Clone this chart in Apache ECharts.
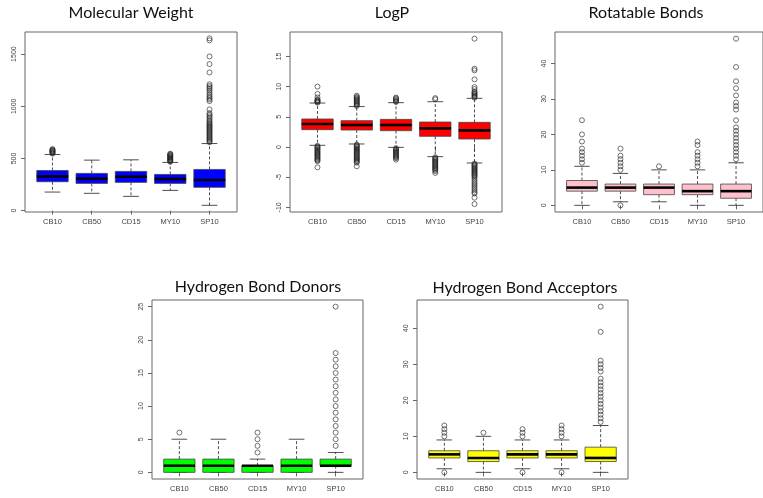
<!DOCTYPE html>
<html>
<head>
<meta charset="utf-8">
<script src="https://cdn.jsdelivr.net/npm/echarts@6/dist/echarts.min.js"></script>
<style>
  html, body { margin: 0; padding: 0; background: #fff; }
  #chart { width: 763px; height: 498px; }
</style>
</head>
<body>
<div id="chart"></div>
<script>
var categories = ['CB10', 'CB50', 'CD15', 'MY10', 'SP10'];

// [lower whisker, Q1, median, Q3, upper whisker] per category
var mwStats = [[178, 277, 328, 385, 538], [166, 261, 306, 357, 484], [137, 271, 325, 376, 487], [194, 261, 303, 347, 462], [51, 223, 293, 395, 643]];
var mwOutliers = [
  [546, 552, 558, 563, 568, 573, 578, 584, 590],
  [],
  [],
  [468, 474, 480, 486, 492, 498, 504, 510, 516, 522, 528, 534, 540, 546],
  [655, 665, 675, 685, 695, 705, 715, 725, 735, 745, 755, 765, 775, 785, 795, 805, 815, 825, 836, 848, 860, 875, 890, 905, 920, 935, 970, 1050, 1065, 1080, 1095, 1110, 1130, 1150, 1165, 1180, 1195, 1211, 1324, 1404, 1478, 1632, 1651]
];

var logpStats = [[0.28, 2.87, 3.81, 4.64, 7.28], [0.5, 2.81, 3.64, 4.36, 6.7], [-0.06, 2.7, 3.64, 4.58, 7.34], [-1.6, 1.77, 3.09, 4.14, 7.5], [-2.65, 1.32, 2.76, 4.08, 8.06]];
var logpOutliers = [
  [7.35, 7.45, 7.55, 7.65, 7.75, 7.85, 8.2, 8.8, 10.0, 0.2, 0.05, -0.1, -0.25, -0.4, -0.55, -0.7, -0.85, -1.0, -1.15, -1.3, -1.45, -1.6, -1.75, -1.9, -2.05, -2.2, -2.35, -3.37],
  [6.8, 6.95, 7.1, 7.25, 7.4, 7.55, 7.7, 7.85, 8.0, 8.15, 8.3, 8.5, 0.4, 0.25, 0.1, -0.05, -0.2, -0.35, -0.5, -0.65, -0.8, -0.95, -1.1, -1.25, -1.4, -1.55, -1.7, -1.85, -2.0, -2.15, -2.3, -2.45, -2.6, -3.2],
  [7.45, 7.6, 7.75, 7.9, 8.05, 8.2, -0.2, -0.35, -0.5, -0.65, -0.8, -0.95, -1.1, -1.25, -1.4, -1.55, -1.7, -1.85, -2.1],
  [7.9, 8.1, -1.7, -1.85, -2.0, -2.15, -2.3, -2.45, -2.6, -2.75, -2.9, -3.05, -3.2, -3.35, -3.5, -3.65, -3.8, -4.0, -4.3],
  [8.15, 8.3, 8.45, 8.6, 8.75, 8.9, 9.05, 9.2, 9.6, 9.93, 11.2, 12.7, 12.97, 17.94, -2.75, -2.9, -3.05, -3.2, -3.35, -3.5, -3.65, -3.8, -3.95, -4.1, -4.25, -4.4, -4.55, -4.7, -4.86, -5.1, -5.4, -5.7, -6.0, -6.3, -6.6, -6.9, -7.2, -7.5, -7.7, -8.4, -9.45]
];

var rotStats = [[0, 4, 5, 7, 11], [1, 4, 5, 6, 9], [1, 3, 5, 6, 10], [0, 3, 4, 6, 10], [0, 2, 4, 6, 12]];
var rotOutliers = [
  [12, 13, 14, 15, 16, 18, 20, 24],
  [0, 10, 11, 12, 13, 14, 16],
  [11],
  [11, 12, 13, 14, 15, 17, 18],
  [13, 14, 15, 16, 17, 18, 19, 20, 21, 22, 24, 27, 28, 29, 31, 33, 35, 39, 47]
];

var donStats = [[0, 0, 1, 2, 5], [0, 0, 1, 2, 5], [0, 0, 1, 1, 2], [0, 0, 1, 2, 5], [0, 1, 1, 2, 3]];
var donOutliers = [
  [6],
  [],
  [3, 4, 5, 6],
  [],
  [4, 5, 6, 7, 8, 9, 10, 11, 12, 13, 14, 15, 16, 17, 18, 25]
];

var accStats = [[1, 4, 5, 6, 9], [0, 3, 4, 6, 10], [1, 4, 5, 6, 9], [1, 4, 5, 6, 9], [0, 3, 4, 7, 13]];
var accOutliers = [
  [0, 10, 11, 12, 13],
  [11],
  [0, 10, 11, 12],
  [0, 10, 11, 12, 13],
  [14, 15, 16, 17, 18, 19, 20, 21, 22, 23, 24, 25, 26, 28, 29, 30, 31, 39, 46]
];

var mwTicks = [0, 500, 1000, 1500];
var logpTicks = [-10, -5, 0, 5, 10, 15];
var rotTicks = [0, 10, 20, 30, 40];
var donTicks = [0, 5, 10, 15, 20, 25];
var accTicks = [0, 10, 20, 30, 40];

var panels = [
  { title: 'Molecular Weight', stats: mwStats, out: mwOutliers, ticks: mwTicks, min: -13, max: 1712, fill: '#0000ff',
    grid: { left: 25, top: 32, width: 212, height: 180 }, titlePos: [131, 13] },
  { title: 'LogP', stats: logpStats, out: logpOutliers, ticks: logpTicks, min: -10.77, max: 19.05, fill: '#ff0000',
    grid: { left: 290, top: 32, width: 212, height: 180 }, titlePos: [392, 13] },
  { title: 'Rotatable Bonds', stats: rotStats, out: rotOutliers, ticks: rotTicks, min: -1.88, max: 48.88, fill: '#ffc0cb',
    grid: { left: 555, top: 32, width: 212, height: 180 }, titlePos: [646, 13] },
  { title: 'Hydrogen Bond Donors', stats: donStats, out: donOutliers, ticks: donTicks, min: -1, max: 26, fill: '#00ff00',
    grid: { left: 152, top: 300, width: 211, height: 179 }, titlePos: [258, 287] },
  { title: 'Hydrogen Bond Acceptors', stats: accStats, out: accOutliers, ticks: accTicks, min: -1.84, max: 47.84, fill: '#ffff00',
    grid: { left: 417, top: 300, width: 211, height: 179 }, titlePos: [525, 288] }
];

function renderBox(params, api) {
  var x = api.value(0);
  var lo = api.coord([x, api.value(1)]);
  var q1 = api.coord([x, api.value(2)]);
  var md = api.coord([x, api.value(3)]);
  var q3 = api.coord([x, api.value(4)]);
  var hi = api.coord([x, api.value(5)]);
  var half = api.size([0.8, 0])[0] / 2;
  var cap = half / 2;
  var cx = lo[0];
  var line = { stroke: '#222', lineWidth: 0.8 };
  return {
    type: 'group',
    children: [
      { type: 'line', shape: { x1: cx, y1: q3[1], x2: cx, y2: hi[1] }, style: { stroke: '#222', lineWidth: 0.8, lineDash: [3, 2] } },
      { type: 'line', shape: { x1: cx, y1: q1[1], x2: cx, y2: lo[1] }, style: { stroke: '#222', lineWidth: 0.8, lineDash: [3, 2] } },
      { type: 'line', shape: { x1: cx - cap, y1: hi[1], x2: cx + cap, y2: hi[1] }, style: line },
      { type: 'line', shape: { x1: cx - cap, y1: lo[1], x2: cx + cap, y2: lo[1] }, style: line },
      { type: 'rect', shape: { x: cx - half, y: q3[1], width: half * 2, height: q1[1] - q3[1] },
        style: { fill: api.visual('color'), stroke: '#444', lineWidth: 0.8 } },
      { type: 'line', shape: { x1: cx - half, y1: md[1], x2: cx + half, y2: md[1] }, style: { stroke: '#000', lineWidth: 2.6 } }
    ]
  };
}

var grids = [], xAxes = [], yAxes = [], series = [], graphics = [];

panels.forEach(function (p, i) {
  grids.push(Object.assign({ show: true, borderColor: '#666', borderWidth: 1, backgroundColor: '#fff' }, p.grid));
  xAxes.push({
    type: 'value', gridIndex: i, min: 0.3, max: 5.7,
    axisLine: { show: false }, splitLine: { show: false },
    axisTick: { show: true, length: 4, lineStyle: { color: '#666' }, customValues: [1, 2, 3, 4, 5] },
    axisLabel: { customValues: [1, 2, 3, 4, 5], margin: 6, fontSize: 7.5, color: '#444', fontFamily: 'Liberation Sans',
      formatter: function (v) { return categories[Math.round(v) - 1]; } }
  });
  yAxes.push({
    type: 'value', gridIndex: i, min: p.min, max: p.max,
    axisLine: { show: false }, splitLine: { show: false },
    axisTick: { show: true, length: 4, lineStyle: { color: '#666' }, customValues: p.ticks },
    axisLabel: { customValues: p.ticks, rotate: 90, margin: 7, fontSize: 7, color: '#444', fontFamily: 'Liberation Sans',
      formatter: function (v) { return String(v); } }
  });
  series.push({
    type: 'custom', xAxisIndex: i, yAxisIndex: i,
    itemStyle: { color: p.fill },
    renderItem: renderBox,
    encode: { x: 0, y: [1, 2, 3, 4, 5] },
    data: p.stats.map(function (s, k) { return [k + 1].concat(s); })
  });
  var pts = [];
  p.out.forEach(function (vals, k) {
    vals.forEach(function (v) { pts.push([k + 1, v]); });
  });
  series.push({
    type: 'scatter', xAxisIndex: i, yAxisIndex: i,
    symbol: 'circle', symbolSize: 5,
    itemStyle: { color: 'rgba(0,0,0,0)', borderColor: '#222', borderWidth: 0.8 },
    data: pts
  });
  graphics.push({
    type: 'text', x: p.titlePos[0], y: p.titlePos[1],
    style: { text: p.title, fill: '#111', font: '16px Lato', textAlign: 'center', textVerticalAlign: 'middle' }
  });
});

var chart = echarts.init(document.getElementById('chart'));
chart.setOption({
  animation: false,
  backgroundColor: '#fff',
  grid: grids,
  xAxis: xAxes,
  yAxis: yAxes,
  series: series,
  graphic: graphics
});
</script>
</body>
</html>
